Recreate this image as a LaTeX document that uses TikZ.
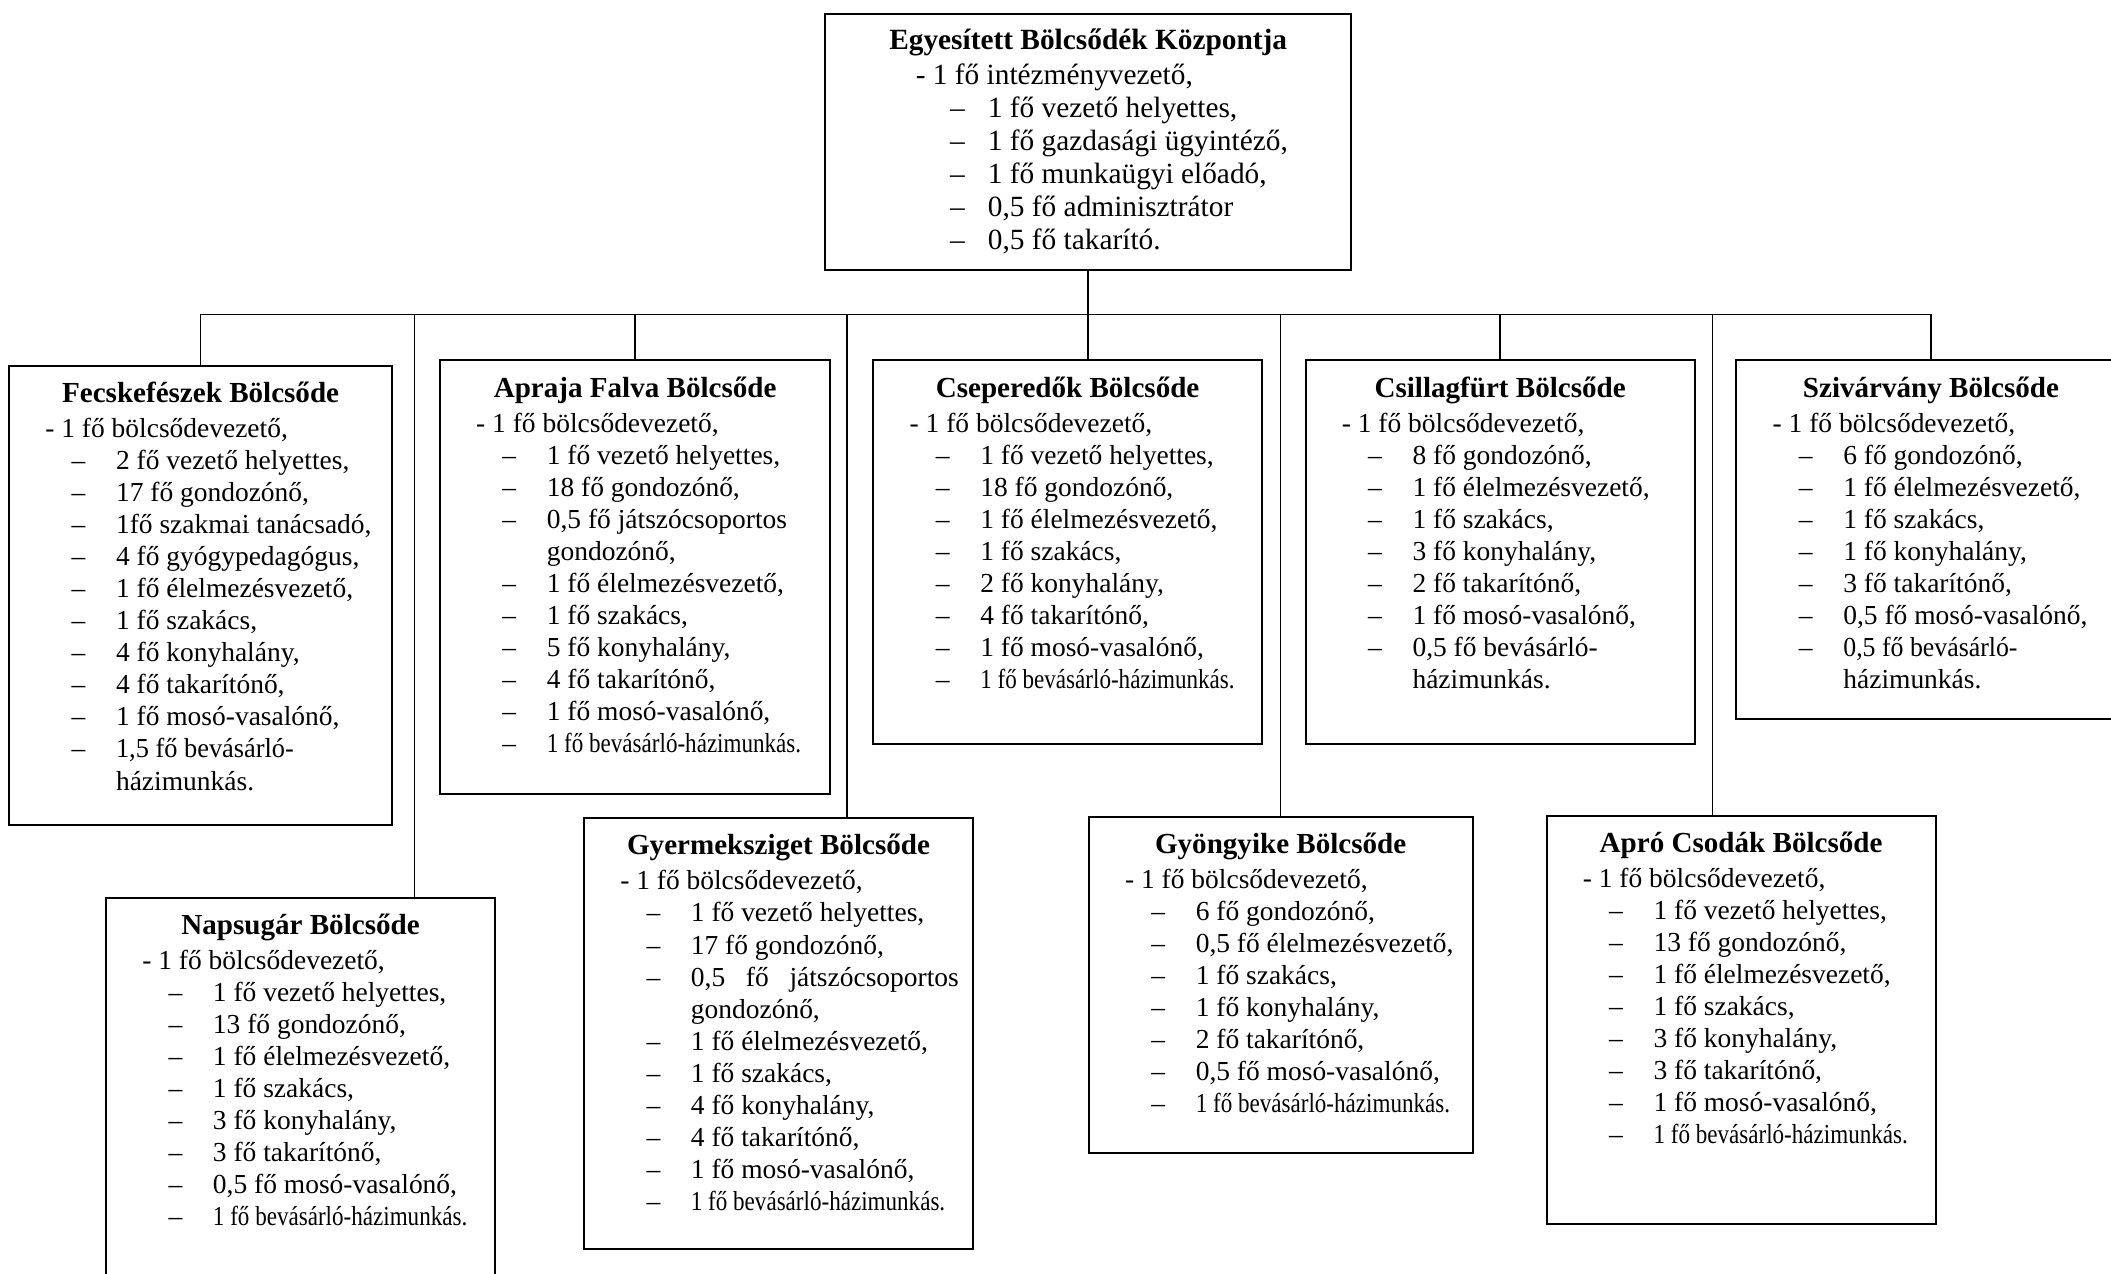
\documentclass[tikz,border=0pt]{standalone}
\usepackage{fontspec}
\setmainfont{Liberation Serif}
\usetikzlibrary{calc}
\tikzset{
  doboz/.style={draw, line width=1.5pt, anchor=north west, inner sep=0pt},
  vonal/.style={line width=1.1pt},
  cim/.style={anchor=base, inner sep=0pt, font=\bfseries\fontsize{21.6}{24}\selectfont},
  sor/.style={anchor=base west, inner sep=0pt, font=\fontsize{20.4}{24}\selectfont},
}
\newcommand{\szuk}[2][0.84]{\scalebox{#1}[1]{#2}}
\newcommand{\tetelek}[5]{
  \foreach[count=\i] \jel/\sz in {#2} {
    \node[sor] (#1-\i) at ($ #3 + (0,\i*#4) $) {\makebox[#5][l]{\ignorespaces\jel}\sz};
  }
}
\newcommand{\bolcsode}[3]{
  \node[cim] (#1-cim) at ($(#1.north)+(0,28)$) {#2};
  \node[sor] (#1-vez) at ($(#1.north west)+(27.5,54)$) {- 1 fő bölcsődevezető,};
  \tetelek{#1}{#3}{(#1.north west)+(47,54)}{23.8}{33pt}
}

\begin{document}
\begin{tikzpicture}[x=1pt, y=-1pt]
  \useasboundingbox (0,0) rectangle (1568,946);
  % dobozok
  \node[doboz, minimum width=391pt, minimum height=190.5pt] (kozpont) at (612,9.5) {};
  \node[doboz, minimum width=284.5pt, minimum height=341pt] (fecske) at (6,271) {};
  \node[doboz, minimum width=290pt, minimum height=322pt] (apraja) at (326,267) {};
  \node[doboz, minimum width=288.5pt, minimum height=284.5pt] (csepe) at (648,267) {};
  \node[doboz, minimum width=289pt, minimum height=284.5pt] (csillag) at (969,267) {};
  \node[doboz, minimum width=289pt, minimum height=266pt] (szivar) at (1289,267) {};
  \node[doboz, minimum width=289pt, minimum height=282pt] (napsugar) at (78,666) {};
  \node[doboz, minimum width=289pt, minimum height=320pt] (gyermek) at (433,607) {};
  \node[doboz, minimum width=285pt, minimum height=250pt] (gyongy) at (808,606) {};
  \node[doboz, minimum width=289pt, minimum height=303.5pt] (apro) at (1148,605) {};

  % kapcsolatok
  \coordinate (sin) at ($(kozpont.south)+(0,32)$);
  \coordinate (napsugar-be) at ($(napsugar.north west)+(230,0)$);
  \coordinate (gyermek-be) at ($(gyermek.north west)+(196,0)$);
  \coordinate (apro-be) at ($(apro.north west)+(124,0)$);
  \draw[vonal] (kozpont.south) -- (kozpont.south |- csepe.north);
  \draw[vonal] (fecske.north) -- (fecske.north |- sin) -- (szivar.north |- sin) -- (szivar.north);
  \foreach \b in {apraja, csillag, gyongy}
    \draw[vonal] (\b.north |- sin) -- (\b.north);
  \foreach \b in {napsugar, gyermek, apro}
    \draw[vonal] (\b-be |- sin) -- (\b-be);

  % szovegek
  \begin{scope}[sor/.append style={font=\fontsize{21.8}{24}\selectfont},
                cim/.append style={font=\bfseries\fontsize{21.8}{24}\selectfont}]
    \node[cim] (kozpont-cim) at ($(kozpont.north)+(0,27)$) {Egyesített Bölcsődék Központja};
    \node[sor] (kozpont-vez) at ($(kozpont.north west)+(68,53.5)$) {- 1 fő intézményvezető,};
    \tetelek{kozpont}{–/{1 fő vezető helyettes,}, –/{1 fő gazdasági ügyintéző,},
      –/{1 fő munkaügyi előadó,}, –/{0,5 fő adminisztrátor}, –/{0,5 fő takarító.}}
      {(kozpont.north west)+(93.6,53.5)}{24.4}{28pt}
  \end{scope}

  \bolcsode{fecske}{Fecskefészek Bölcsőde}{–/{2 fő vezető helyettes,}, –/{17 fő gondozónő,},
    –/{1fő szakmai tanácsadó,}, –/{4 fő gyógypedagógus,}, –/{1 fő élelmezésvezető,},
    –/{1 fő szakács,}, –/{4 fő konyhalány,}, –/{4 fő takarítónő,}, –/{1 fő mosó-vasalónő,},
    –/{\szuk[0.96]{1,5 fő bevásárló-}}, /{házimunkás.}}
  \bolcsode{apraja}{Apraja Falva Bölcsőde}{–/{1 fő vezető helyettes,}, –/{18 fő gondozónő,},
    –/{0,5 fő játszócsoportos}, /{gondozónő,}, –/{1 fő élelmezésvezető,}, –/{1 fő szakács,},
    –/{5 fő konyhalány,}, –/{4 fő takarítónő,}, –/{1 fő mosó-vasalónő,},
    –/{\szuk{1 fő bevásárló-házimunkás.}}}
  \bolcsode{csepe}{Cseperedők Bölcsőde}{–/{1 fő vezető helyettes,}, –/{18 fő gondozónő,},
    –/{1 fő élelmezésvezető,}, –/{1 fő szakács,}, –/{2 fő konyhalány,}, –/{4 fő takarítónő,},
    –/{1 fő mosó-vasalónő,}, –/{\szuk{1 fő bevásárló-házimunkás.}}}
  \bolcsode{csillag}{Csillagfürt Bölcsőde}{–/{8 fő gondozónő,}, –/{1 fő élelmezésvezető,},
    –/{1 fő szakács,}, –/{3 fő konyhalány,}, –/{2 fő takarítónő,}, –/{1 fő mosó-vasalónő,},
    –/{0,5 fő bevásárló-}, /{házimunkás.}}
  \bolcsode{szivar}{Szivárvány Bölcsőde}{–/{6 fő gondozónő,}, –/{1 fő élelmezésvezető,},
    –/{1 fő szakács,}, –/{1 fő konyhalány,}, –/{3 fő takarítónő,}, –/{0,5 fő mosó-vasalónő,},
    –/{\szuk[0.94]{0,5 fő bevásárló-}}, /{házimunkás.}}
  \bolcsode{napsugar}{Napsugár Bölcsőde}{–/{1 fő vezető helyettes,}, –/{13 fő gondozónő,},
    –/{1 fő élelmezésvezető,}, –/{1 fő szakács,}, –/{3 fő konyhalány,}, –/{3 fő takarítónő,},
    –/{0,5 fő mosó-vasalónő,}, –/{\szuk{1 fő bevásárló-házimunkás.}}}
  \bolcsode{gyermek}{Gyermeksziget Bölcsőde}{–/{1 fő vezető helyettes,}, –/{17 fő gondozónő,},
    –/{\makebox[199pt][s]{0,5 fő játszócsoportos}}, /{gondozónő,}, –/{1 fő élelmezésvezető,},
    –/{1 fő szakács,}, –/{4 fő konyhalány,}, –/{4 fő takarítónő,}, –/{1 fő mosó-vasalónő,},
    –/{\szuk{1 fő bevásárló-házimunkás.}}}
  \bolcsode{gyongy}{Gyöngyike Bölcsőde}{–/{6 fő gondozónő,}, –/{0,5 fő élelmezésvezető,},
    –/{1 fő szakács,}, –/{1 fő konyhalány,}, –/{2 fő takarítónő,}, –/{0,5 fő mosó-vasalónő,},
    –/{\szuk{1 fő bevásárló-házimunkás.}}}
  \bolcsode{apro}{Apró Csodák Bölcsőde}{–/{1 fő vezető helyettes,}, –/{13 fő gondozónő,},
    –/{1 fő élelmezésvezető,}, –/{1 fő szakács,}, –/{3 fő konyhalány,}, –/{3 fő takarítónő,},
    –/{1 fő mosó-vasalónő,}, –/{\szuk{1 fő bevásárló-házimunkás.}}}
\end{tikzpicture}
\end{document}
